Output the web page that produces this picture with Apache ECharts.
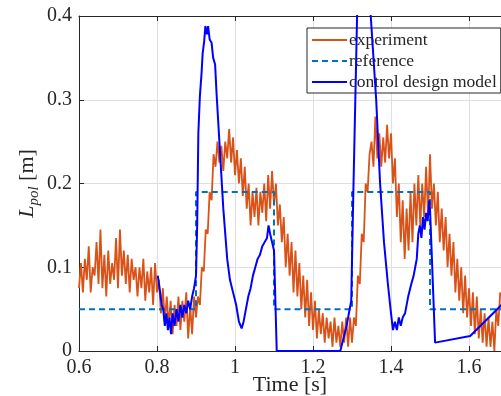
<!DOCTYPE html>
<html><head><meta charset="utf-8">
<script src="https://cdn.jsdelivr.net/npm/echarts@6/dist/echarts.min.js"></script>
<style>html,body{margin:0;padding:0;background:#fff}#c{width:501px;height:396px}</style>
</head><body><div id="c"></div>
<script>
// experiment samples: start time 0.6 s, step 0.005 s
const expStart = 0.6, expStep = 0.005;
const expL = [
 0.075,0.105,0.07,0.11,0.085,0.125,0.07,0.1,0.09,0.13,
 0.08,0.145,0.075,0.115,0.065,0.12,0.08,0.105,0.085,0.135,
 0.075,0.145,0.09,0.12,0.08,0.115,0.07,0.11,0.085,0.1,
 0.065,0.1,0.075,0.11,0.06,0.095,0.07,0.1,0.055,0.105,
 0.07,0.085,0.045,0.075,0.035,0.065,0.03,0.06,0.02,0.055,
 0.03,0.065,0.025,0.06,0.035,0.07,0.015,0.055,0.02,0.065,
 0.04,0.065,0.055,0.1,0.095,0.145,0.14,0.19,0.18,0.235,
 0.22,0.25,0.225,0.245,0.215,0.25,0.23,0.265,0.225,0.255,
 0.21,0.24,0.2,0.23,0.185,0.22,0.17,0.2,0.15,0.19,
 0.16,0.195,0.15,0.19,0.165,0.2,0.155,0.21,0.17,0.215,
 0.175,0.2,0.15,0.175,0.13,0.16,0.1,0.14,0.09,0.13,
 0.07,0.12,0.065,0.105,0.05,0.09,0.04,0.085,0.03,0.07,
 0.025,0.06,0.015,0.05,0.02,0.045,0.01,0.04,0.015,0.035,
 0.005,0.04,0.01,0.03,0.005,0.035,0.01,0.04,0.005,0.04,
 0.01,0.04,0.03,0.09,0.08,0.14,0.13,0.2,0.19,0.235,
 0.25,0.22,0.28,0.23,0.26,0.22,0.255,0.225,0.27,0.23,
 0.26,0.2,0.23,0.16,0.2,0.13,0.18,0.11,0.17,0.12,
 0.19,0.13,0.2,0.15,0.21,0.15,0.2,0.16,0.22,0.16,
 0.235,0.17,0.2,0.15,0.19,0.13,0.17,0.12,0.16,0.1,
 0.14,0.09,0.13,0.07,0.11,0.06,0.1,0.045,0.09,0.04,
 0.075,0.03,0.07,0.02,0.065,0.015,0.05,0.01,0.045,0.005,
 0.04,0.005,0.035,0.0,0.05,0.03,0.07
];
const refT = [0.6,0.9,0.9,1.1,1.1,1.3,1.3,1.5,1.5,1.7];
const refL = [0.05,0.05,0.19,0.19,0.05,0.05,0.19,0.19,0.05,0.05];
const modelT = [0.802,0.808,0.812,0.816,0.82,0.824,0.828,0.832,0.836,0.84,0.845,0.85,0.855,0.86,0.865,0.87,0.875,0.88,0.885,0.89,0.895,
 0.9,0.903,0.906,0.91,0.914,0.917,0.921,0.924,0.928,0.931,0.935,0.94,0.944,0.949,0.953,0.96,0.97,0.98,0.987,0.995,1.003,1.01,1.017,
 1.022,1.028,1.034,1.04,1.046,1.052,1.058,1.064,1.07,1.076,1.082,1.086,1.09,1.095,1.1,1.107,1.27,1.286,1.298,1.303,1.313,1.32,1.33,1.34,1.348,
 1.362,1.372,1.382,1.392,1.4,1.405,1.41,1.415,1.42,1.425,1.43,1.436,1.444,1.452,1.458,1.462,1.466,1.47,1.474,1.478,1.482,1.486,1.49,1.494,1.498,1.5,
 1.513,1.603,1.69];
const modelL = [0.09,0.07,0.055,0.05,0.03,0.045,0.025,0.04,0.02,0.045,0.03,0.05,0.035,0.055,0.04,0.055,0.045,0.06,0.05,0.065,0.075,
 0.09,0.15,0.26,0.305,0.33,0.355,0.37,0.388,0.378,0.388,0.372,0.368,0.35,0.342,0.305,0.25,0.17,0.11,0.085,0.07,0.055,0.035,0.027,
 0.035,0.05,0.065,0.075,0.09,0.1,0.11,0.115,0.125,0.13,0.135,0.15,0.14,0.13,0.12,0,0,0.03,0.06,0.18,0.4,0.46,0.49,0.46,0.4,
 0.3,0.2,0.13,0.08,0.045,0.025,0.035,0.025,0.04,0.03,0.04,0.045,0.065,0.08,0.09,0.1,0.11,0.14,0.15,0.135,0.16,0.145,0.165,0.155,0.18,0.17,
 0.01,0.018,0.058];
const xTicks = [0.6,0.8,1,1.2,1.4,1.6];
const yTicks = [0,0.1,0.2,0.3,0.4];

const expData = expL.map((v,i)=>[+(expStart+i*expStep).toFixed(3), v]);
const refData = refT.map((t,i)=>[t, refL[i]]);
const modelData = modelT.map((t,i)=>[t, modelL[i]]);

const FONT = '"Liberation Serif", "DejaVu Serif", serif';
const TXT = '#262626';
const chart = echarts.init(document.getElementById('c'), null, {renderer:'canvas'});
const xCommon = {
  type:'value', min:0.6, max:1.682, interval:0.2,
  axisLine:{show:true, onZero:false, lineStyle:{color:TXT, width:1}},
  axisTick:{show:true, inside:true, length:5, lineStyle:{color:TXT}}
};
chart.setOption({
  animation:false,
  grid:{left:79, right:0, top:16, bottom:45, containLabel:false, outerBoundsMode:'none'},
  legend:{
    orient:'vertical', left:307, top:28,
    itemWidth:35, itemHeight:12, itemGap:3,
    padding:[3,4,2,4],
    itemStyle:{opacity:0},
    backgroundColor:'#fff', borderColor:'#262626', borderWidth:1, borderRadius:0,
    textStyle:{fontFamily:FONT, fontSize:17.5, lineHeight:17, color:TXT, padding:[0,0,0,-3]},
    data:['experiment','reference','control design model']
  },
  xAxis:[
    Object.assign({}, xCommon, {
      position:'bottom',
      name:'Time [s]', nameLocation:'middle', nameGap:23, nameMoveOverlap:false,
      nameTextStyle:{fontFamily:FONT, fontSize:22, color:TXT, verticalAlign:'top'},
      axisLabel:{fontFamily:FONT, fontSize:20, color:TXT, margin:7, showMaxLabel:false,
        formatter:v=> xTicks.some(t=>Math.abs(t-v)<1e-6) ? String(+v.toFixed(1)) : ''},
      splitLine:{show:true, lineStyle:{color:'#dfdfdf', width:1}}
    }),
    Object.assign({}, xCommon, {
      position:'top', axisLabel:{show:false}, splitLine:{show:false}
    })
  ],
  yAxis:{
    type:'value', min:0, max:0.4, interval:0.1,
    name:'{L|L}{s|pol}{n| [m]}', nameLocation:'middle', nameGap:37, nameRotate:90, nameMoveOverlap:false,
    nameTextStyle:{fontFamily:FONT, color:TXT,
      rich:{
        L:{fontFamily:FONT, fontStyle:'italic', fontSize:22, color:TXT, lineHeight:30, verticalAlign:'middle'},
        s:{fontFamily:FONT, fontStyle:'italic', fontSize:15, color:TXT, lineHeight:13, verticalAlign:'bottom'},
        n:{fontFamily:FONT, fontSize:22, color:TXT, lineHeight:30, verticalAlign:'middle'}
      }},
    axisLine:{show:true, lineStyle:{color:TXT, width:1}},
    axisTick:{show:true, inside:true, length:5, lineStyle:{color:TXT}},
    axisLabel:{fontFamily:FONT, fontSize:20, color:TXT, margin:7,
      formatter:v=> yTicks.some(t=>Math.abs(t-v)<1e-6) ? String(+v.toFixed(1)) : ''},
    splitLine:{show:true, lineStyle:{color:'#dfdfdf', width:1}}
  },
  series:[
    {name:'experiment', type:'line', data:expData, symbol:'none', clip:true,
      lineStyle:{color:'#D95319', width:1.8}, itemStyle:{color:'#D95319'}, z:2},
    {name:'reference', type:'line', data:refData, symbol:'none', clip:true,
      lineStyle:{color:'#0072BD', width:2, type:[6,4]}, itemStyle:{color:'#0072BD'}, z:3},
    {name:'control design model', type:'line', data:modelData, symbol:'none', clip:true,
      lineStyle:{color:'#0000FF', width:2}, itemStyle:{color:'#0000FF'}, z:4}
  ]
});
</script></body></html>
